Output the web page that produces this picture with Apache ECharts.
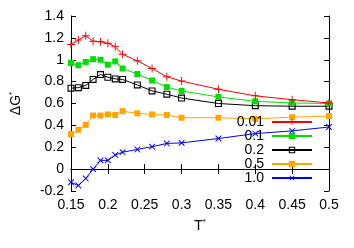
<!DOCTYPE html>
<html><head><meta charset="utf-8">
<script src="https://cdn.jsdelivr.net/npm/echarts@6/dist/echarts.min.js"></script>
<style>html,body{margin:0;padding:0;background:#fff}#c{width:354px;height:248px}</style>
</head><body><div id="c"></div>
<script>
const temps = [0.15,0.16,0.17,0.18,0.19,0.20,0.21,0.22,0.24,0.26,0.28,0.30,0.35,0.40,0.45,0.50];
const seriesNames = ['0.01','0.1','0.2','0.5','1.0'];
const s001 = [1.14,1.18,1.22,1.17,1.165,1.15,1.12,1.05,0.99,0.92,0.845,0.805,0.73,0.67,0.635,0.605];
const s01  = [0.97,0.95,0.98,1.005,1.0,0.955,0.985,0.92,0.87,0.81,0.75,0.715,0.66,0.62,0.605,0.60];
const s02  = [0.74,0.745,0.765,0.82,0.865,0.84,0.825,0.82,0.77,0.715,0.685,0.65,0.60,0.58,0.575,0.575];
const s05  = [0.32,0.36,0.405,0.49,0.49,0.50,0.495,0.53,0.51,0.50,0.495,0.47,0.47,0.46,0.475,0.485];
const s10  = [-0.12,-0.15,-0.085,0.0,0.08,0.08,0.13,0.155,0.18,0.205,0.235,0.24,0.28,0.325,0.35,0.385];
const xTickLabels = ['0.15','0.2','0.25','0.3','0.35','0.4','0.45','0.5'];
const yTickLabels = ['-0.2','0','0.2','0.4','0.6','0.8','1','1.2','1.4'];

const plus = 'path://M0,4.4H10V5.6H0Z M4.4,0H5.6V10H4.4Z';
const hollowSq = 'path://M0,0H10V10H0Z M1.6,1.6V8.4H8.4V1.6Z';
const colors = ['#ff0000','#00e000','#000000','#ffa500','#0000ff'];
const symbols = [plus, 'rect', hollowSq, 'rect', plus];
const sizes = [8, 6, 7, 6, 8];
const rots = [0, 0, 0, 0, 45];
const all = [s001, s01, s02, s05, s10];

const font = 'Liberation Sans';
const chart = echarts.init(document.getElementById('c'));
const fmtX = v => { const i = Math.round((v - 0.15) / 0.05); return xTickLabels[i] ?? ''; };
const fmtY = v => { const i = Math.round((v + 0.2) / 0.2); return yTickLabels[i] ?? ''; };

chart.setOption({
  animation: false,
  textStyle: {fontFamily: font},
  grid: {left: 67, right: 25, top: 16, bottom: 57},
  legend: {
    orient: 'vertical', right: 41, top: 115, align: 'right', padding: 0,
    itemWidth: 40, itemHeight: 8, itemGap: 0,
    textStyle: {fontFamily: font, fontSize: 14, lineHeight: 13, color: '#000', padding: [0,3,0,0]},
    data: seriesNames
  },
  xAxis: [{
    type: 'value', min: 0.15, max: 0.5, interval: 0.05,
    axisLine: {lineStyle: {color: '#000', width: 1}},
    axisTick: {inside: true, length: 5, lineStyle: {color: '#000'}},
    splitLine: {show: false},
    axisLabel: {formatter: fmtX, color: '#000', fontSize: 14, fontFamily: font, margin: 7},
    name: '{a|T}{s|*}', nameLocation: 'middle', nameGap: 27,
    nameTextStyle: {rich: {a: {fontSize: 14, fontFamily: font, color: '#000'}, s: {fontSize: 8, fontFamily: font, color: '#000', verticalAlign: 'top', padding: [0,0,8,0]}}}
  },{
    type: 'value', min: 0.15, max: 0.5, interval: 0.05, position: 'top',
    axisLine: {lineStyle: {color: '#000', width: 1}},
    axisTick: {inside: true, length: 5, lineStyle: {color: '#000'}},
    axisLabel: {show: false}, splitLine: {show: false}
  }],
  yAxis: [{
    type: 'value', min: -0.2, max: 1.4, interval: 0.2,
    axisLine: {show: true, lineStyle: {color: '#000', width: 1}},
    axisTick: {show: true, inside: true, length: 5, lineStyle: {color: '#000'}},
    splitLine: {show: false},
    axisLabel: {formatter: fmtY, color: '#000', fontSize: 14, fontFamily: font, margin: 7},
    name: '{a|ΔG}{s|*}', nameLocation: 'middle', nameGap: 47, nameRotate: 90,
    nameTextStyle: {rich: {a: {fontSize: 14, fontFamily: font, color: '#000'}, s: {fontSize: 8, fontFamily: font, color: '#000', verticalAlign: 'top', padding: [0,0,8,0]}}}
  },{
    type: 'value', min: -0.2, max: 1.4, interval: 0.2, position: 'right',
    axisLine: {show: true, lineStyle: {color: '#000', width: 1}},
    axisTick: {show: true, inside: true, length: 5, lineStyle: {color: '#000'}},
    axisLabel: {show: false}, splitLine: {show: false}
  }],
  series: seriesNames.map((n, k) => ({
    name: n, type: 'line',
    data: temps.map((t, i) => [t, all[k][i]]),
    symbol: symbols[k], symbolSize: sizes[k], symbolRotate: rots[k],
    lineStyle: {color: colors[k], width: 1},
    itemStyle: {color: colors[k], borderWidth: 0},
    z: 5 - k
  }))
});
</script></body></html>
